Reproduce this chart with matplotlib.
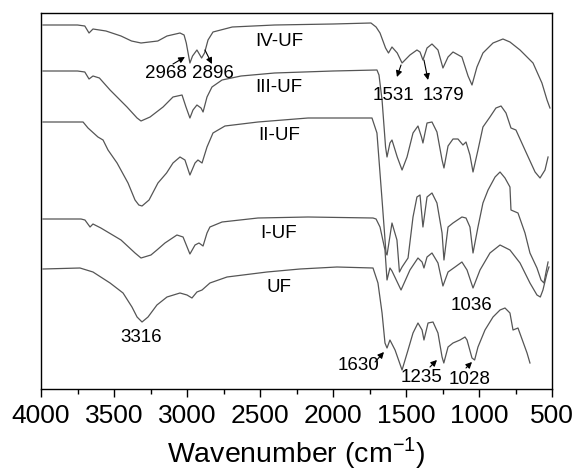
import matplotlib
matplotlib.use("Agg")
import matplotlib.pyplot as plt
from matplotlib.ticker import MultipleLocator

plt.rcParams['font.family'] = ['Liberation Sans', 'DejaVu Sans']
plt.rcParams['mathtext.fontset'] = 'custom'
plt.rcParams['mathtext.rm'] = 'Liberation Sans'

# FTIR spectra, transmittance in arbitrary units (curves already offset)
wn_iv = [3986, 3750, 3700, 3671, 3644, 3555, 3452, 3380, 3315, 3200, 3137, 3048, 3020, 3005,
         2980, 2962, 2932, 2900, 2880, 2856, 2822, 2690, 2400, 2000, 1740, 1705, 1678, 1640,
         1620, 1596, 1560, 1527, 1473, 1425, 1404, 1384, 1356, 1322, 1281, 1247, 1212, 1178,
         1117, 1075, 1048, 1014, 973, 904, 836, 788, 719, 630, 569, 534, 514]
t_iv = [364, 364, 363, 356, 360, 358, 353, 348, 346, 348, 353, 356, 354, 346,
        326, 333, 339, 331, 336, 349, 357, 362, 364, 365, 366, 362, 356, 341,
        336, 342, 336, 326, 334, 339, 337, 329, 341, 345, 339, 321, 332, 337,
        332, 313, 304, 322, 336, 346, 350, 347, 339, 326, 306, 289, 281]

wn_iii = [3986, 3750, 3700, 3671, 3644, 3600, 3527, 3411, 3342, 3315, 3253, 3164, 3096, 3034,
          3007, 2980, 2959, 2932, 2904, 2890, 2863, 2829, 2760, 2630, 2400, 2000, 1699, 1685,
          1664, 1640, 1630, 1610, 1596, 1560, 1527, 1493, 1452, 1418, 1394, 1384, 1356, 1322,
          1288, 1253, 1240, 1212, 1178, 1144, 1110, 1089, 1062, 1041, 1007, 973, 925, 884, 849,
          815, 781, 747, 685, 616, 582, 548, 527]
t_iii = [318, 318, 317, 310, 313, 311, 299, 282, 271, 268, 272, 282, 292, 294,
         282, 271, 279, 284, 281, 277, 292, 302, 309, 313, 316, 318, 319, 314,
         289, 242, 232, 246, 249, 232, 219, 232, 256, 263, 252, 246, 266, 267,
         257, 229, 221, 243, 250, 250, 244, 247, 234, 217, 239, 262, 272, 281, 283,
         276, 261, 259, 239, 217, 211, 219, 232]

wn_ii = [3986, 3712, 3678, 3610, 3575, 3541, 3479, 3404, 3356, 3330, 3308, 3260, 3199, 3140,
         3096, 3048, 3014, 2980, 2945, 2925, 2897, 2863, 2822, 2740, 2514, 2171, 1733, 1699,
         1664, 1637, 1630, 1596, 1562, 1545, 1527, 1486, 1452, 1425, 1404, 1384, 1356, 1322,
         1288, 1253, 1240, 1212, 1178, 1117, 1089, 1062, 1041, 1007, 973, 938, 890, 856, 822,
         788, 781, 733, 685, 651, 603, 575, 555, 541, 527]
t_ii = [267, 267, 261, 252, 249, 239, 226, 206, 189, 184, 183, 189, 206, 216,
        226, 232, 229, 214, 226, 229, 226, 242, 256, 263, 267, 271, 271, 256,
        189, 136, 134, 166, 149, 117, 122, 131, 172, 192, 194, 162, 192, 196,
        186, 156, 129, 162, 166, 172, 171, 162, 136, 162, 186, 199, 212, 217, 211,
        202, 179, 176, 156, 136, 121, 109, 106, 117, 127]

wn_i = [3986, 3726, 3699, 3664, 3644, 3590, 3452, 3356, 3315, 3247, 3206, 3151, 3069, 3027,
        2980, 2945, 2918, 2890, 2863, 2843, 2760, 2514, 2171, 1726, 1705, 1678, 1644, 1630,
        1610, 1596, 1534, 1473, 1418, 1390, 1377, 1356, 1322, 1281, 1247, 1212, 1164, 1117,
        1082, 1041, 993, 925, 856, 788, 719, 651, 603, 580, 562, 534, 521]
t_i = [170, 170, 169, 162, 165, 161, 149, 136, 131, 134, 139, 146, 154, 152,
       135, 144, 146, 143, 156, 162, 167, 171, 172, 171, 170, 162, 139, 109,
       121, 118, 99, 119, 131, 127, 121, 132, 136, 126, 103, 117, 122, 127,
       119, 101, 119, 136, 144, 139, 126, 106, 94, 92, 99, 116, 122]

wn_uf = [3986, 3733, 3644, 3527, 3438, 3377, 3342, 3308, 3267, 3206, 3137, 3048, 3000, 2966,
         2932, 2897, 2843, 2726, 2452, 2226, 1973, 1726, 1692, 1664, 1644, 1630, 1610, 1575,
         1527, 1486, 1452, 1418, 1390, 1377, 1349, 1315, 1281, 1253, 1241, 1212, 1178, 1130,
         1096, 1082, 1048, 1030, 1007, 959, 904, 856, 822, 788, 767, 733, 671, 651]
t_uf = [120, 121, 117, 106, 96, 82, 72, 67, 72, 84, 92, 96, 94, 91,
        97, 99, 106, 112, 117, 120, 122, 121, 106, 76, 46, 41, 49, 39,
        19, 39, 56, 66, 59, 49, 66, 67, 56, 32, 26, 42, 46, 49,
        52, 49, 31, 29, 42, 59, 72, 79, 81, 76, 59, 61, 36, 26]

names = ['IV-UF', 'III-UF', 'II-UF', 'I-UF', 'UF']
name_y = [347, 302, 254, 156, 101]

fig = plt.figure(figsize=(5.76, 4.74), dpi=100)
ax = fig.add_axes([41 / 576, 1 - 389 / 474, 511 / 576, 376 / 474])

for w, t in [(wn_iv, t_iv), (wn_iii, t_iii), (wn_ii, t_ii), (wn_i, t_i), (wn_uf, t_uf)]:
    ax.plot(w, t, color='#555555', lw=0.9)

fs = 13.5
for n, y in zip(names, name_y):
    ax.text(2370, y, n, fontsize=fs, ha='center', va='center')

arr = dict(arrowstyle='-|>', color='black', lw=0.8, mutation_scale=9, shrinkA=0, shrinkB=0)
# peak labels; arrows run from tail to head
ax.annotate('', xy=(3014, 332), xytext=(3096, 325), arrowprops=arr)
ax.text(3144, 316, '2968', fontsize=fs, ha='center', va='center')
ax.annotate('', xy=(2829, 325), xytext=(2877, 339), arrowprops=arr)
ax.text(2822, 316, '2896', fontsize=fs, ha='center', va='center')
ax.annotate('', xy=(1562, 312), xytext=(1534, 324), arrowprops=arr)
ax.text(1589, 294, '1531', fontsize=fs, ha='center', va='center')
ax.annotate('', xy=(1349, 309), xytext=(1377, 329), arrowprops=arr)
ax.text(1247, 294, '1379', fontsize=fs, ha='center', va='center')
ax.text(3315, 52, '3316', fontsize=fs, ha='center', va='center')
ax.text(1048, 84, '1036', fontsize=fs, ha='center', va='center')
ax.annotate('', xy=(1651, 37), xytext=(1712, 27), arrowprops=arr)
ax.text(1822, 24, '1630', fontsize=fs, ha='center', va='center')
ax.annotate('', xy=(1288, 29), xytext=(1336, 22), arrowprops=arr)
ax.text(1397, 11, '1235', fontsize=fs, ha='center', va='center')
ax.annotate('', xy=(1048, 27), xytext=(1089, 21), arrowprops=arr)
ax.text(1062, 10, '1028', fontsize=fs, ha='center', va='center')

ax.set_xlim(4000, 500)
ax.set_ylim(0, 376)
ax.set_yticks([])
ax.xaxis.set_major_locator(MultipleLocator(500))
ax.xaxis.set_minor_locator(MultipleLocator(250))
ax.tick_params(axis='x', which='major', direction='out', length=6, width=1, labelsize=19, pad=5)
ax.tick_params(axis='x', which='minor', direction='out', length=3.5, width=1)
for s in ax.spines.values():
    s.set_linewidth(1.0)
ax.set_xlabel('Wavenumber (cm$^{\\mathrm{-1}}$)', fontsize=20.5, labelpad=5)

fig.savefig('out.png', dpi=100)
